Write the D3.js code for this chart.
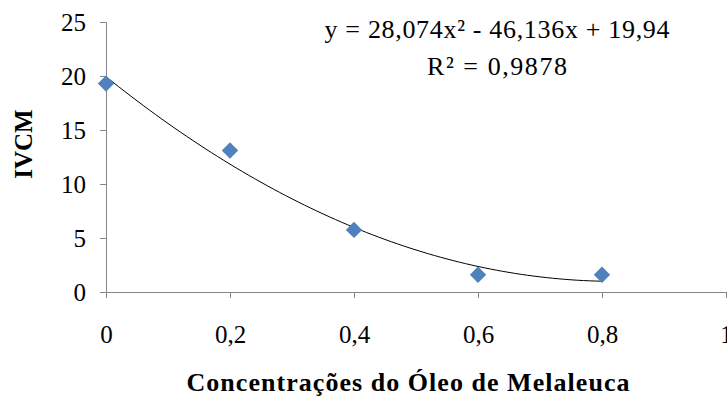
<!DOCTYPE html>
<html><head><meta charset="utf-8">
<script src="https://cdn.jsdelivr.net/npm/d3@7"></script>
<style>body{margin:0;background:#fff}svg{display:block}</style>
</head><body>
<script>
const concentrations = [0, 0.2, 0.4, 0.6, 0.8];
const ivcm = [19.3, 13.1, 5.75, 1.6, 1.6];
const xTicks = [0, 0.2, 0.4, 0.6, 0.8, 1];
const yTicks = [0, 5, 10, 15, 20, 25];
const coef = [28.074, -46.136, 19.94];
const eqText = "y = 28,074x² - 46,136x + 19,94";
const r2Text = "R² = 0,9878";

const W = 727, H = 398;
const svg = d3.select("body").append("svg").attr("width", W).attr("height", H);
const x = d3.scaleLinear().domain([0, 1]).range([106, 726]);
const y = d3.scaleLinear().domain([0, 25]).range([292, 22]);
const font = "'Liberation Serif', 'DejaVu Serif', serif";
const axisColor = "#868686";

const fmt = d => d3.format(".1~f")(d).replace(".", ",");

const gx = svg.append("g").attr("transform", `translate(0,${y(0)})`)
  .call(d3.axisBottom(x).tickValues(xTicks).tickSize(6).tickPadding(27).tickFormat(fmt));
const gy = svg.append("g").attr("transform", `translate(${x(0)},0)`)
  .call(d3.axisLeft(y).tickValues(yTicks).tickSize(6).tickPadding(14).tickFormat(d3.format("d")));
[gx, gy].forEach(g => {
  g.select(".domain").attr("stroke", axisColor).attr("stroke-width", 1);
  g.selectAll(".tick line").attr("stroke", axisColor);
  g.selectAll("text").attr("font-family", font).attr("font-size", 25).attr("fill", "#000");
});
gy.selectAll("text").attr("dy", "0.34em");

// trendline
const xs = d3.range(0, 0.8001, 0.01);
const line = d3.line().x(d => x(d)).y(d => y(coef[0]*d*d + coef[1]*d + coef[2]));
svg.append("path").datum(xs).attr("d", line).attr("fill", "none")
  .attr("stroke", "#000").attr("stroke-width", 1);

// points
svg.selectAll(".pt").data(concentrations).enter().append("path")
  .attr("class", "pt")
  .attr("d", d3.symbol(d3.symbolDiamond2, 170)())
  .attr("transform", (d, i) => `translate(${x(d)},${y(ivcm[i])})`)
  .attr("fill", "#4f81bd");

// equation
svg.append("text").attr("x", 497).attr("y", 38).attr("text-anchor", "middle")
  .attr("font-family", font).attr("font-size", 26).attr("textLength", 345)
  .text(eqText);
svg.append("text").attr("x", 497).attr("y", 75).attr("text-anchor", "middle")
  .attr("font-family", font).attr("font-size", 26).attr("textLength", 140)
  .text(r2Text);

// axis titles
svg.append("text").attr("x", 408).attr("y", 391).attr("text-anchor", "middle")
  .attr("font-family", font).attr("font-size", 26).attr("font-weight", "bold")
  .attr("textLength", 443)
  .text("Concentrações do Óleo de Melaleuca");
svg.append("text").attr("transform", "translate(32,144) rotate(-90)").attr("text-anchor", "middle")
  .attr("font-family", font).attr("font-size", 25).attr("font-weight", "bold").text("IVCM");
</script>
</body></html>
